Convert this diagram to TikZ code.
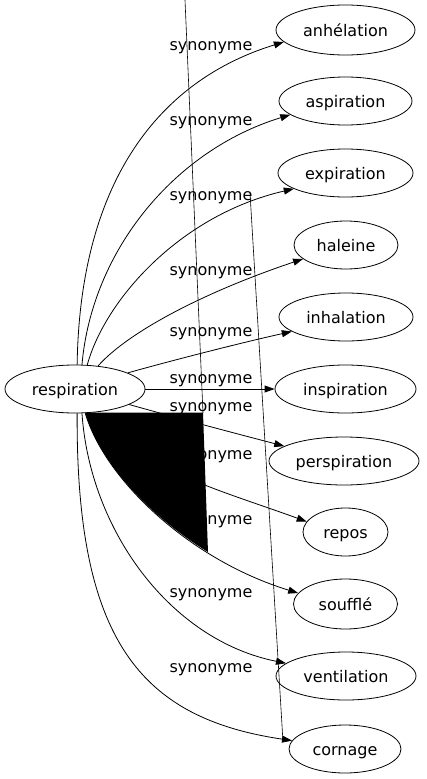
\documentclass[tikz,border=0pt]{standalone}
\usepackage{fontspec}
\setmainfont{DejaVu Sans}
\usetikzlibrary{shapes.geometric,arrows.meta}
\begin{document}
\begin{tikzpicture}[x=1pt,y=-1pt,
  word/.style={ellipse,draw,line width=0.8pt,inner sep=0pt,minimum height=48pt,
    text height=13pt,text depth=1pt,font=\fontsize{16}{19}\selectfont},
  lab/.style={inner sep=0pt,anchor=base,font=\fontsize{16}{19}\selectfont},
  edge/.style={line width=0.8pt,-{Triangle[length=10pt,width=7pt]}},
  glitch/.style={line width=0.6pt}]
\useasboundingbox (0,0) rectangle (427,779);
% nodes
\node[word,minimum width=140pt] (res) at (75,389) {respiration};
\node[word,minimum width=139pt,minimum height=50pt] (anh) at (345.5,30) {anhélation};
\node[word,minimum width=133pt] (asp) at (345.5,101) {aspiration};
\node[word,minimum width=135pt] (exp) at (345.5,173) {expiration};
\node[word,minimum width=104pt] (hal) at (346,245) {haleine};
\node[word,minimum width=134pt] (inh) at (346,317) {inhalation};
\node[word,minimum width=141pt] (ins) at (345.5,389) {inspiration};
\node[word,minimum width=150pt] (per) at (344,461) {perspiration};
\node[word,minimum width=85pt] (rep) at (345.5,532) {repos};
\node[word,minimum width=104pt,minimum height=50pt] (sou) at (345.5,604) {soufflé};
\node[word,minimum width=140pt] (ven) at (346,676) {ventilation};
\node[word,minimum width=112pt] (cor) at (345,749) {cornage};
% edges
\draw[edge] (res.85) .. controls (80,180) and (160,80) .. (anh.191);
\draw[edge] (res.74) .. controls (92,250) and (175,150) .. (asp.194);
\draw[edge] (res.63) .. controls (105,300) and (180,215) .. (exp.197);
\draw[edge] (res.45) .. controls (130,330) and (210,290) .. (hal.198);
\draw[edge] (res.17) .. controls (170,361) and (240,343) .. (inh.195);
\draw[edge] (res.east) -- (ins.west);
\draw[edge] (res.-16.5) .. controls (170,416) and (230,432) .. (per.166);
\draw[edge] (res.-50) .. controls (140,470) and (220,490) .. (rep.165);
\draw[edge] (res.-67) .. controls (105,480) and (190,560) .. (sou.167);
\draw[edge] (res.-74) .. controls (90,530) and (170,640) .. (ven.168);
\draw[edge] (res.-85) .. controls (76,640) and (140,718) .. (cor.171);
% labels
\node[lab] (l1) at (211,50) {synonyme};
\node[lab] (l2) at (211,125) {synonyme};
\node[lab] (l3) at (211,200) {synonyme};
\node[lab] (l4) at (211,275) {synonyme};
\node[lab] (l5) at (211,336) {synonyme};
\node[lab] (l6) at (211,383) {synonyme};
\node[lab] (l7) at (211,411) {synonyme};
\node[lab] (l8) at (211,459) {synonyme};
\node[lab] (l9) at (211,524) {synonyme};
\node[lab] (l10) at (211,597) {synonyme};
\node[lab] (l11) at (211,672) {synonyme};
% black patch
\begin{scope}
\clip (85,412.7) -- (203,412.7) -- (209.7,600) -- (0,600) -- cycle;
\fill (85.1,412.7) .. controls (105,480) and (190,560) .. (298.6,593.2) -- (298.6,412.7) -- cycle;
\end{scope}
% thin stray lines
\coordinate (g1a) at (185,0);
\coordinate (g1b) at (203,413);
\coordinate (g2a) at (250,193);
\coordinate (g2b) at (283,742);
\draw[glitch] (g1a) -- (g1b);
\draw[glitch] (g2a) -- (g2b);
\end{tikzpicture}
\end{document}
